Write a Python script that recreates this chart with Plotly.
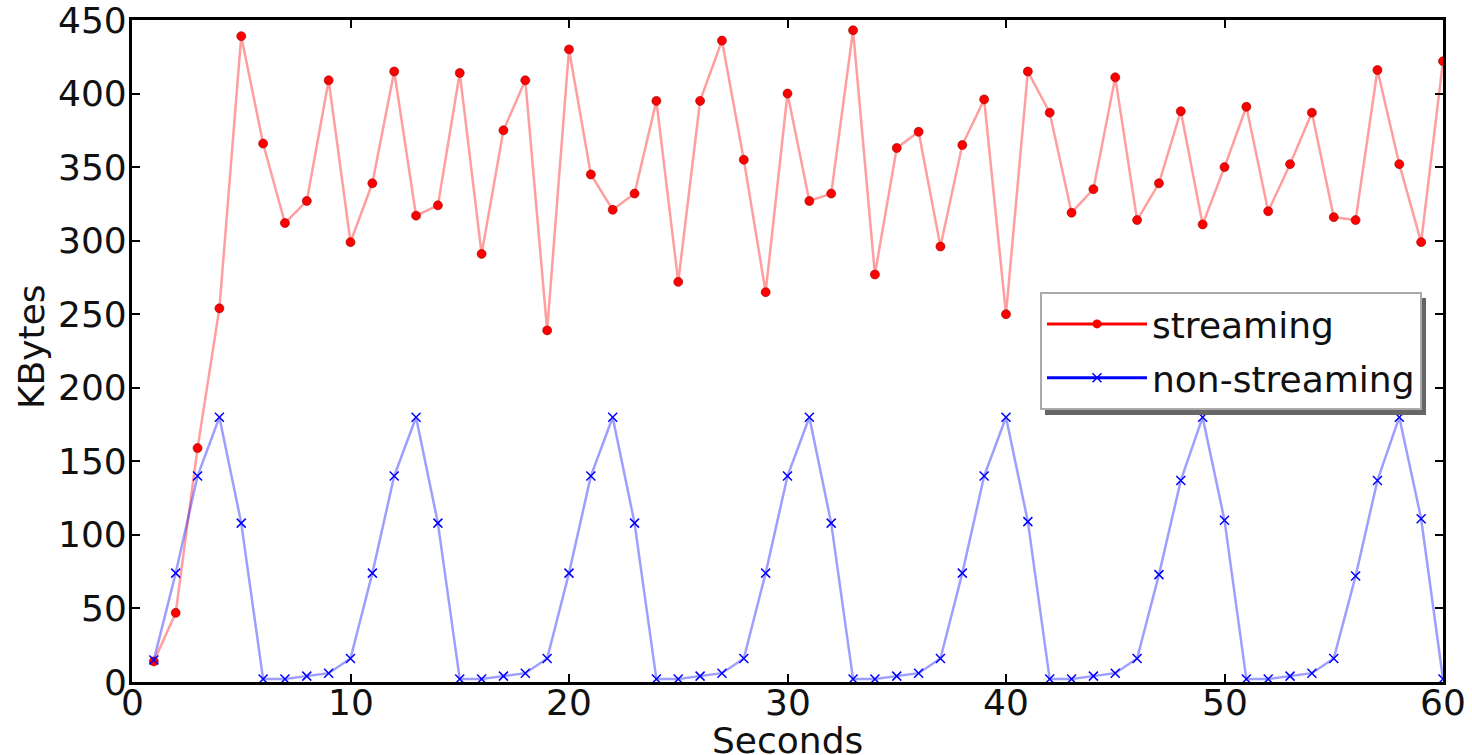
import plotly.graph_objects as go

seconds = list(range(1, 61))
streaming = [14, 47, 159, 254, 439, 366, 312, 327, 409, 299,
             339, 415, 317, 324, 414, 291, 375, 409, 239, 430,
             345, 321, 332, 395, 272, 395, 436, 355, 265, 400,
             327, 332, 443, 277, 363, 374, 296, 365, 396, 250,
             415, 387, 319, 335, 411, 314, 339, 388, 311, 350,
             391, 320, 352, 387, 316, 314, 416, 352, 299, 422]
non_streaming = [15, 74, 140, 180, 108, 2, 2, 4, 6, 16,
                 74, 140, 180, 108, 2, 2, 4, 6, 16, 74,
                 140, 180, 108, 2, 2, 4, 6, 16, 74, 140,
                 180, 108, 2, 2, 4, 6, 16, 74, 140, 180,
                 109, 2, 2, 4, 6, 16, 73, 137, 180, 110,
                 2, 2, 4, 6, 16, 72, 137, 180, 111, 2]
x_ticks = [0, 10, 20, 30, 40, 50, 60]
y_ticks = [0, 50, 100, 150, 200, 250, 300, 350, 400, 450]
x_title = "Seconds"
y_title = "KBytes"

FONT = "DejaVu Sans"
FS = 36
TXT = "#111"

fig = go.Figure()
fig.add_trace(go.Scatter(
    x=seconds, y=streaming, mode="lines+markers", name="streaming",
    line=dict(color="rgba(255,0,0,0.38)", width=2.5),
    marker=dict(symbol="circle", size=9, color="red",
                line=dict(color="rgba(150,0,0,0.6)", width=1)),
    showlegend=False))
fig.add_trace(go.Scatter(
    x=seconds, y=non_streaming, mode="lines+markers", name="non-streaming",
    line=dict(color="rgba(0,0,255,0.38)", width=2.5),
    marker=dict(symbol="x-thin", size=9, color="blue",
                line=dict(color="blue", width=1.5)),
    showlegend=False))
# legend entries (solid colours as in the reference legend)
fig.add_trace(go.Scatter(
    x=[None], y=[None], mode="lines+markers", name="streaming",
    legendgroup="a",
    line=dict(color="red", width=3),
    marker=dict(symbol="circle", size=9, color="red")))
fig.add_trace(go.Scatter(
    x=[None], y=[None], mode="lines+markers", name="non-streaming",
    legendgroup="b",
    line=dict(color="blue", width=3),
    marker=dict(symbol="x-thin", size=9, color="blue",
                line=dict(color="blue", width=1.5))))

axis_common = dict(
    showline=True, linecolor="black", linewidth=3, mirror="allticks",
    ticks="inside", ticklen=8, tickwidth=2, tickcolor="black",
    showgrid=False, zeroline=False, showticklabels=False,
)
fig.update_xaxes(range=[0, 60], tickvals=x_ticks, **axis_common)
fig.update_yaxes(range=[0, 450], tickvals=y_ticks, **axis_common)

L, T, W, H = 132, 20, 1311, 662


def px_x(p):
    return (p - L) / W


def px_y(p):
    return (T + H - p) / H


tick_font = dict(family=FONT, size=FS, color=TXT)
# tick labels placed close to the spines, as in the reference
for v in x_ticks:
    fig.add_annotation(text=str(v), xref="x", yref="paper", x=v, y=px_y(702),
                       xanchor="center", yanchor="middle", showarrow=False,
                       font=tick_font)
for v in y_ticks:
    fig.add_annotation(text=str(v), xref="paper", yref="y", x=px_x(129), y=v,
                       xanchor="right", yanchor="middle", showarrow=False,
                       font=tick_font)

# axis titles
fig.add_annotation(text=x_title, xref="paper", yref="paper",
                   x=px_x(787), y=px_y(740), xanchor="center", yanchor="middle",
                   showarrow=False, font=tick_font)
fig.add_annotation(text=y_title, xref="paper", yref="paper", textangle=-90,
                   x=px_x(31), y=px_y(347), xanchor="center", yanchor="middle",
                   showarrow=False, font=tick_font)

# legend shadow
fig.add_shape(type="rect", xref="paper", yref="paper",
              x0=px_x(1045), x1=px_x(1426), y0=px_y(415), y1=px_y(298),
              fillcolor="#666", line=dict(width=0), layer="above")

fig.update_layout(
    width=1472, height=755,
    margin=dict(l=L, r=1472 - L - W, t=T, b=755 - T - H, autoexpand=False),
    paper_bgcolor="white", plot_bgcolor="white",
    font=dict(family=FONT, size=FS, color=TXT),
    hovermode=False,
    legend=dict(x=px_x(1040), y=px_y(292),
                xanchor="left", yanchor="top",
                bgcolor="white", bordercolor="#aaa", borderwidth=2,
                font=dict(family=FONT, size=FS, color=TXT),
                itemwidth=100, traceorder="grouped", tracegroupgap=4),
)

fig.write_html("out.html", config={"displayModeBar": False},
               post_script="document.body.style.margin='0';")
